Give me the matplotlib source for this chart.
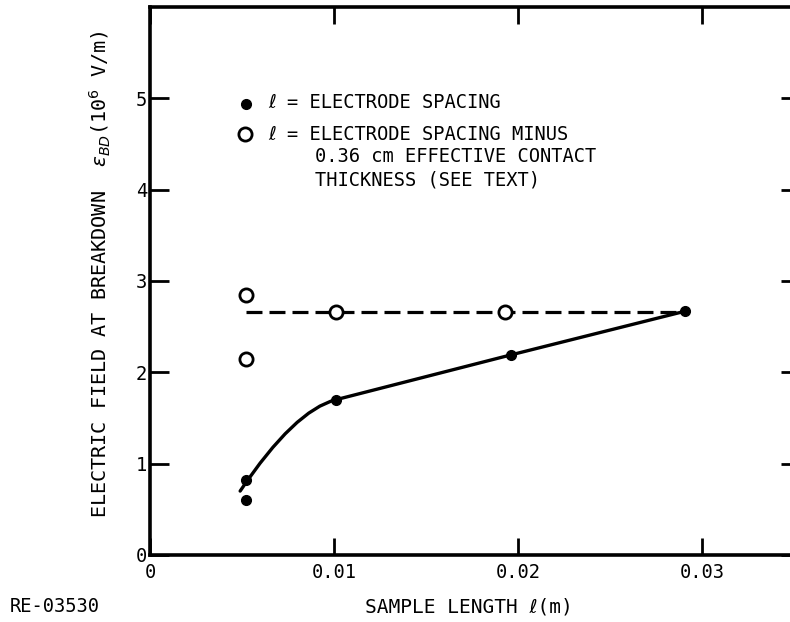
import matplotlib
matplotlib.use("Agg")
import matplotlib.pyplot as plt
from matplotlib.path import Path
from matplotlib.patches import PathPatch
from matplotlib.lines import Line2D

# ---- data ----
filled_x = [0.0052, 0.0052, 0.0101, 0.0196, 0.0291]
filled_y = [0.60, 0.82, 1.70, 2.19, 2.67]

open_x = [0.0052, 0.0052, 0.0101, 0.0193]
open_y = [2.85, 2.15, 2.66, 2.66]

# hand-drawn fit through the filled points: a curved part (start, control, end)
# followed by straight segments
curve_x = [0.0049, 0.00785, 0.0101, 0.0196, 0.0291]
curve_y = [0.70, 1.585, 1.70, 2.19, 2.67]

dash_x = [0.0052, 0.0291]
dash_y = [2.66, 2.66]

xticks = [0, 0.01, 0.02, 0.03]
xticklabels = ["0", "0.01", "0.02", "0.03"]
yticks = [0, 1, 2, 3, 4, 5]
yticklabels = ["0", "1", "2", "3", "4", "5"]

legend_lines = ["\u2113 = ELECTRODE SPACING",
                "\u2113 = ELECTRODE SPACING MINUS",
                "0.36 cm EFFECTIVE CONTACT",
                "THICKNESS (SEE TEXT)"]

W, H = 790, 622
plt.rcParams["font.family"] = ["DejaVu Sans Mono", "DejaVu Sans"]
plt.rcParams["mathtext.fontset"] = "dejavusans"
fig = plt.figure(figsize=(W / 100, H / 100), dpi=100)

left, right, bottom, top = 150, 800, 555, 7
ax = fig.add_axes([left / W, (H - bottom) / H, (right - left) / W, (bottom - top) / H])
ax.set_xlim(0, 0.03533)
ax.set_ylim(0, 6.0)

verts = list(zip(curve_x, curve_y))
codes = [Path.MOVETO, Path.CURVE3, Path.CURVE3] + [Path.LINETO] * (len(verts) - 3)
ax.add_patch(PathPatch(Path(verts, codes), fill=False, edgecolor="black", lw=2.4,
                       capstyle="round", joinstyle="round", zorder=2))
ax.plot(dash_x, dash_y, color="black", lw=2.3, dashes=(5, 2.2), zorder=2)
ax.plot(filled_x, filled_y, "o", color="black", ms=7, zorder=3)
ax.plot(open_x, open_y, "o", mfc="white", mec="black", mew=2, ms=9.5, zorder=3)

for s in ax.spines.values():
    s.set_linewidth(2.6)
    s.set_color("black")

ax.set_xticks(xticks)
ax.set_xticklabels(xticklabels)
ax.set_yticks(yticks)
ax.set_yticklabels(yticklabels)
ax.tick_params(axis="both", direction="in", length=14, width=2, labelsize=13.5, colors="black")
ax.tick_params(axis="x", top=True, pad=6, length=12)
ax.tick_params(axis="y", right=True, pad=2)

# legend (laid out like the original figure)
fs = 13.5
def fx(px):
    return px / W
def fy(py):
    return 1 - py / H

fig.add_artist(Line2D([fx(246)], [fy(104)], marker="o", color="black", ms=7,
                      transform=fig.transFigure))
fig.add_artist(Line2D([fx(245)], [fy(134)], marker="o", mfc="white", mec="black",
                      mew=2, ms=9.5, transform=fig.transFigure))
fig.text(fx(268), fy(102), legend_lines[0], fontsize=fs, va="center", ha="left")
fig.text(fx(268), fy(134), legend_lines[1], fontsize=fs, va="center", ha="left")
fig.text(fx(315), fy(157), legend_lines[2], fontsize=fs, va="center", ha="left")
fig.text(fx(315), fy(180), legend_lines[3], fontsize=fs, va="center", ha="left")

fig.text(fx(100), fy(274),
         r"ELECTRIC FIELD AT BREAKDOWN  $\epsilon_{BD}$(10$^{6}$ V/m)",
         rotation=90, ha="center", va="center", fontsize=14.5)
fig.text(fx(469), fy(607), "SAMPLE LENGTH \u2113(m)", ha="center", va="center", fontsize=14)
fig.text(fx(10), fy(607), "RE-03530", ha="left", va="center", fontsize=fs)

fig.savefig("out.png", dpi=100)
